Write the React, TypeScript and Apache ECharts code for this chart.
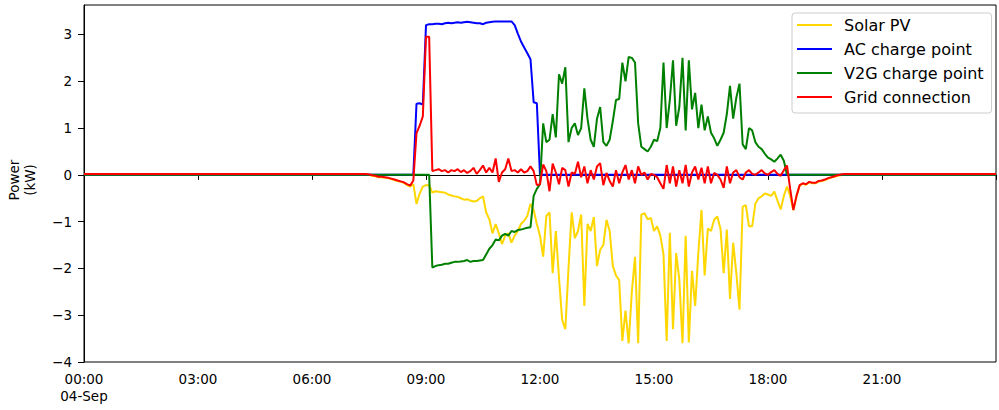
import React, { useEffect, useRef } from "react";
import * as echarts from "echarts";

// Time grid: samples every 5 minutes from 07:00 to 20:00 (minutes since midnight)
const startMinute = 420;
const stepMinutes = 5;
const dayEndMinute = 1440;

const xTickLabels = ["00:00\n04-Sep", "03:00", "06:00", "09:00", "12:00", "15:00", "18:00", "21:00"];
const yTickValues = [-4, -3, -2, -1, 0, 1, 2, 3];
const seriesNames = ["Solar PV", "AC charge point", "V2G charge point", "Grid connection"];
const seriesColors = ["#FFD700", "#0000FF", "#008000", "#FF0000"];

const solarPV = [
  0, 0, 0, 0, 0, 0, 0, -0.02, -0.03, -0.05,
  -0.05, -0.06, -0.07, -0.09, -0.11, -0.13, -0.15, -0.17, -0.22, -0.25,
  -0.2, -0.62, -0.4, -0.25, -0.22, -0.22, -0.38, -0.35, -0.36, -0.37,
  -0.38, -0.42, -0.44, -0.46, -0.47, -0.5, -0.53, -0.52, -0.55, -0.57,
  -0.56, -0.5, -0.46, -0.8, -0.95, -1.25, -1.05, -1.25, -1.48, -1.3,
  -1.25, -1.45, -1.3, -1.2, -1.05, -0.98, -0.88, -0.62, -0.75, -1.05,
  -1.3, -1.75, -0.88, -0.8, -2.1, -1.2, -2.2, -3.1, -3.3, -2.0,
  -0.8, -1.35, -1.2, -0.85, -2.8, -1.05, -1.2, -0.9, -1.95, -1.6,
  -1.5, -0.96, -1.2, -1.95, -2.15, -2.25, -3.55, -2.9, -3.6, -2.5,
  -1.75, -3.6, -0.85, -0.82, -0.95, -0.92, -1.2, -1.1, -1.3, -1.7,
  -3.55, -1.24, -3.3, -1.67, -2.24, -3.6, -1.3, -3.58, -2.05, -2.8,
  -1.67, -0.75, -2.15, -1.15, -1.2, -0.96, -0.89, -1.15, -2.1, -1.17,
  -2.65, -1.45, -2.1, -2.88, -0.68, -0.65, -1.1, -1.1, -0.62, -0.5,
  -0.46, -0.4, -0.42, -0.45, -0.36, -0.55, -0.74, -0.45, -0.25, -0.45,
  -0.76, -0.46, -0.23, -0.19, -0.21, -0.16, -0.18, -0.18, -0.14, -0.13,
  -0.11, -0.08, -0.06, -0.04, -0.02, -0.01, 0,
];

const acChargePoint = [
  0, 0, 0, 0, 0, 0, 0, 0, 0, 0,
  0, 0, 0, 0, 0, 0, 0, 0, 0, 0,
  0, 1.52, 1.53, 1.5, 3.2, 3.22, 3.22, 3.23, 3.23, 3.22,
  3.24, 3.25, 3.24, 3.25, 3.26, 3.25, 3.26, 3.27, 3.26, 3.25,
  3.24, 3.24, 3.22, 3.25, 3.26, 3.27, 3.28, 3.28, 3.28, 3.28,
  3.28, 3.28, 3.2, 3.02, 2.85, 2.72, 2.6, 2.47, 1.55, 1.53,
  0, 0, 0, 0, 0, 0, 0, 0, 0, 0,
  0, 0, 0, 0, 0, 0, 0, 0, 0, 0,
  0, 0, 0, 0, 0, 0, 0, 0, 0, 0,
  0, 0, 0, 0, 0, 0, 0, 0, 0, 0,
  0, 0, 0, 0, 0, 0, 0, 0, 0, 0,
  0, 0, 0, 0, 0, 0, 0, 0, 0, 0,
  0, 0, 0, 0, 0, 0, 0, 0, 0, 0,
  0, 0, 0, 0, 0, 0, 0, 0, 0, 0,
  0, 0, 0, 0, 0, 0, 0, 0, 0, 0,
  0, 0, 0, 0, 0, 0, 0,
];

const v2gChargePoint = [
  0, 0, 0, 0, 0, 0, 0, 0, 0, 0,
  0, 0, 0, 0, 0, 0, 0, 0, 0, 0,
  0, 0, 0, 0, 0, 0, -1.98, -1.95, -1.93, -1.92,
  -1.9, -1.9, -1.88, -1.86, -1.86, -1.85, -1.84, -1.82, -1.86, -1.84,
  -1.84, -1.83, -1.82, -1.7, -1.58, -1.5, -1.38, -1.4, -1.3, -1.26,
  -1.3, -1.2, -1.22, -1.18, -1.17, -1.15, -1.13, -1.12, -0.45, -0.3,
  -0.2, 1.1, 0.7, 0.75, 1.3, 0.8, 2.15, 1.95, 2.3, 0.7,
  1.0, 1.1, 0.85, 1.0, 1.85, 1.2, 0.75, 0.6, 1.2, 1.45,
  0.7, 0.62, 0.75, 1.15, 1.6, 1.62, 2.4, 2.0, 2.52, 2.5,
  2.4, 1.1, 0.6, 0.55, 0.5, 0.6, 0.75, 0.72, 1.0, 2.4,
  1.0, 1.6, 2.45, 1.05, 1.45, 2.5, 0.95, 2.45, 1.4, 1.75,
  1.0, 1.5, 0.95, 1.25, 0.9, 0.78, 0.62, 0.75, 0.9, 1.3,
  1.9, 1.2, 1.65, 1.95, 0.65, 0.55, 1.0, 0.95, 0.7, 0.6,
  0.55, 0.45, 0.37, 0.33, 0.28, 0.35, 0.43, 0.3, 0, 0,
  0, 0, 0, 0, 0, 0, 0, 0, 0, 0,
  0, 0, 0, 0, 0, 0, 0,
];

const gridConnection = [
  0.02, 0.02, 0.02, 0.02, 0.02, 0.02, 0.01, -0.01, -0.02, -0.04,
  -0.04, -0.05, -0.06, -0.08, -0.1, -0.12, -0.14, -0.16, -0.2, -0.23,
  -0.12, 0.89, 1.05, 1.25, 2.95, 2.95, 0.08, 0.1, 0.12, 0.08,
  0.1, 0.05, 0.1, 0.08, 0.12, 0.06, 0.1, 0.04, 0.08, 0.15,
  0.02, 0.1, 0.2, 0.05, 0.15, 0.05, 0.35, -0.15, 0.05, 0.12,
  0.35, 0.08, 0.1, 0.05, 0.12, 0.05, 0.08, 0.18, 0.08, -0.22,
  -0.2, 0.22, 0.08, -0.35, 0.24, 0.05, -0.2, 0.15, 0.1, -0.25,
  0.05, 0.02, 0.28, -0.05, 0.18, -0.18, 0.1, -0.1, 0.18, 0.25,
  -0.22, 0.04, -0.13, -0.25, 0.1, -0.18, 0.05, 0.21, -0.1, 0.1,
  -0.18, 0.18, 0.0, 0.05, -0.1, 0.02, 0.0, -0.05, -0.18, -0.3,
  0.21, -0.18, 0.18, -0.25, 0.1, -0.18, 0.21, -0.25, 0.05, 0.18,
  -0.1, 0.15, -0.18, 0.18, -0.18, 0.04, 0.0, -0.1, -0.28, 0.18,
  -0.18, 0.05, 0.1, -0.05, -0.1, 0.05, 0.1, 0.02, 0.0, 0.05,
  0.1, 0.03, 0.0, 0.06, 0.1, 0.02, -0.02, 0.1, 0.2, -0.3,
  -0.75, -0.45, -0.22, -0.18, -0.2, -0.15, -0.17, -0.17, -0.13, -0.12,
  -0.1, -0.07, -0.05, -0.03, -0.01, 0.01, 0.02,
];

const FONT = "DejaVu Sans";

export default function App() {
  const ref = useRef<HTMLDivElement>(null);

  useEffect(() => {
    document.body.style.margin = "0";
    const chart = echarts.init(ref.current as HTMLDivElement, null, { renderer: "svg" });

    const toSeries = (vals: number[]) => {
      const pts: [number, number][] = [[0, vals[0]]];
      vals.forEach((v, i) => pts.push([startMinute + i * stepMinutes, v]));
      pts.push([dayEndMinute, vals[vals.length - 1]]);
      return pts;
    };
    const allValues = [solarPV, acChargePoint, v2gChargePoint, gridConnection];

    chart.setOption({
      animation: false,
      backgroundColor: "#ffffff",
      grid: {
        left: 84,
        right: -2,
        top: 5,
        bottom: 48,
        show: true,
        borderColor: "#000000",
        borderWidth: 1,
        backgroundColor: "transparent",
      },
      legend: {
        show: true,
        orient: "vertical",
        left: 792,
        top: 13,
        padding: [4, 8, 8, 5],
        itemGap: 8,
        itemWidth: 35,
        itemHeight: 2,
        icon: "rect",
        backgroundColor: "rgba(255,255,255,0.8)",
        borderColor: "#cccccc",
        borderWidth: 1,
        borderRadius: 3,
        data: seriesNames,
        textStyle: {
          fontFamily: FONT,
          fontSize: 16,
          color: "#000000",
          lineHeight: 16,
          padding: [0, 0, 0, 7],
        },
      },
      xAxis: {
        type: "value",
        min: 0,
        max: dayEndMinute,
        interval: 180,
        splitLine: { show: false },
        axisLine: { show: true, lineStyle: { color: "#000000", width: 1 } },
        axisTick: { show: true, length: 5, lineStyle: { color: "#000000", width: 1 } },
        axisLabel: {
          margin: 8,
          fontFamily: FONT,
          fontSize: 13.5,
          color: "#000000",
          lineHeight: 17,
          formatter: (v: number) => {
            const idx = Math.round(v / 180);
            return idx < xTickLabels.length ? xTickLabels[idx] : "";
          },
        },
      },
      yAxis: {
        type: "value",
        min: -4,
        max: 3.63,
        interval: 1,
        splitLine: { show: false },
        axisLine: { show: true, lineStyle: { color: "#000000", width: 1 } },
        axisTick: {
          show: true,
          length: 6,
          lineStyle: { color: "#000000", width: 1 },
          customValues: yTickValues,
        },
        axisLabel: {
          margin: 12,
          fontFamily: FONT,
          fontSize: 13.5,
          color: "#000000",
          customValues: yTickValues,
          formatter: (v: number) => {
            if (Math.abs(v - Math.round(v)) > 1e-6) return "";
            return v < 0 ? "\u2212" + Math.abs(v) : String(v);
          },
        },
      },
      graphic: [
        {
          type: "text",
          x: 22,
          y: 180,
          rotation: Math.PI / 2,
          style: {
            text: "Power\n(kW)",
            align: "center",
            verticalAlign: "middle",
            fontFamily: FONT,
            fontSize: 13.5,
            lineHeight: 16,
            fill: "#000000",
          },
        },
      ],
      series: seriesNames.map((name, k) => ({
        name,
        type: "line",
        symbol: "none",
        showSymbol: false,
        data: toSeries(allValues[k]),
        lineStyle: { color: seriesColors[k], width: 2 },
        itemStyle: { color: seriesColors[k] },
        emphasis: { disabled: true },
        z: 2 + k,
      })),
    });

    return () => chart.dispose();
  }, []);

  return <div ref={ref} style={{ width: 999, height: 410 }} />;
}
